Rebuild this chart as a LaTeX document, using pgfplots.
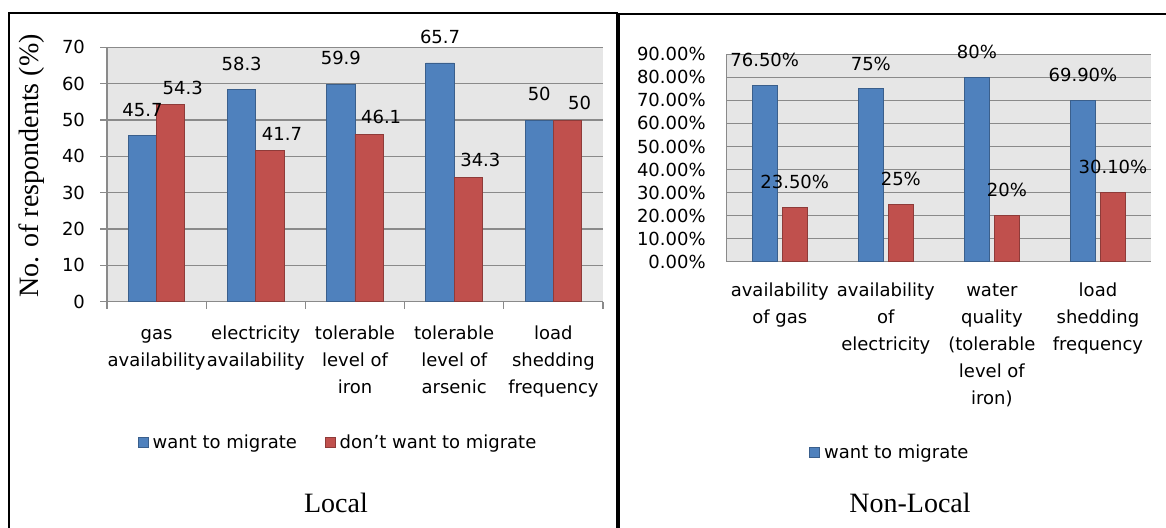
\documentclass[border=0pt]{standalone}
\usepackage{fontspec}
\setmainfont{DejaVu Sans}
\newfontfamily\seriffont{Liberation Serif}
\usepackage{pgfplots}
\pgfplotsset{compat=1.18}

\definecolor{barblue}{HTML}{4F81BD}
\definecolor{barblueedge}{HTML}{3A5F8C}
\definecolor{barred}{HTML}{C0504D}
\definecolor{barrededge}{HTML}{8E3B39}
\definecolor{plotbg}{HTML}{E6E6E6}
\definecolor{gridgray}{HTML}{8A8A8A}

\pgfplotsset{
  sqlegend/.style={legend image code/.code={\draw[##1] (0pt,-2.5pt) rectangle (5pt,2.5pt);}},
  bluebar/.style={fill=barblue, draw=barblueedge, sqlegend},
  redbar/.style={fill=barred, draw=barrededge, sqlegend},
  excel/.style={
    scale only axis,
    /pgf/number format/assume math mode=true,
    ybar, clip=false,
    axis background/.style={fill=plotbg},
    axis lines*=left,
    axis line style={gridgray, line width=0.7pt},
    ymajorgrids,
    grid style={gridgray, line width=0.6pt},
    tick label style={font=\fontsize{9}{13.5}\selectfont, text=black},
    xticklabel style={align=center},
    nodes near coords,
    every node near coord/.append style={font=\fontsize{9}{11}\selectfont, text=black},
    legend style={draw=none, fill=none, legend columns=-1,
      font=\fontsize{9}{11}\selectfont, anchor=center,
      /tikz/every even column/.append style={column sep=12pt}},
  },
}

\begin{document}
\begin{tikzpicture}
\useasboundingbox (0pt,0pt) rectangle (583pt,263.5pt);

% local respondents
\begin{axis}[excel,
  at={(53.5pt,112.65pt)}, anchor=south west,
  width=248pt, height=127.2pt,
  xmin=-0.5, xmax=4.5, ymin=0, ymax=70, ytick={0,10,...,70},
  bar width=14.15pt, ybar=0pt,
  tick align=outside, major tick length=3.5pt,
  tick style={gridgray, line width=0.6pt},
  xtick={-0.5,0.5,...,4.5}, xticklabels={},
  extra x ticks={0,1,2,3,4},
  extra x tick labels={\strut gas\\availability, \strut electricity\\availability, \strut tolerable\\level of\\iron, \strut tolerable\\level of\\arsenic, \strut load\\shedding\\frequency},
  extra x tick style={major tick length=0pt, tick style={draw=none}},
  xticklabel style={yshift=-6pt},
  yticklabel style={xshift=-4pt},
  ylabel={No. of respondents (\%)},
  ylabel style={font=\seriffont\fontsize{14}{16}\selectfont,
    at={(axis description cs:-0.151,0.533)}, anchor=center},
  legend style={at={(0.468,-0.555)}},
]
\addplot[bluebar, every node near coord/.append style={yshift=6pt}]
  coordinates {(0,45.7) (1,58.3) (2,59.9) (3,65.7) (4,50)};
\addlegendentry{want to migrate}
\addplot[redbar, every node near coord/.append style={xshift=6pt, yshift=1.5pt}]
  coordinates {(0,54.3) (1,41.7) (2,46.1) (3,34.3) (4,50)};
\addlegendentry{don't want to migrate}
\end{axis}

% non-local respondents
\begin{axis}[excel,
  at={(363.35pt,132.65pt)}, anchor=south west,
  width=212.15pt, height=103.7pt,
  xmin=-0.5, xmax=3.5, ymin=0, ymax=90, ytick={0,10,...,90},
  yticklabels={0.00\%,10.00\%,20.00\%,30.00\%,40.00\%,50.00\%,60.00\%,70.00\%,80.00\%,90.00\%},
  bar width=12.5pt, ybar=2.5pt,
  major tick length=0pt,
  xtick={0,1,2,3},
  xticklabels={\strut availability\\of gas, \strut availability\\of\\electricity, \strut water\\quality\\(tolerable\\level of\\iron), \strut load\\shedding\\frequency},
  xticklabel style={yshift=-4.5pt},
  yticklabel style={xshift=-7pt},
  point meta=explicit symbolic,
  every node near coord/.append style={yshift=5.75pt},
  legend style={at={(0.387,-0.921)}},
]
\addplot[bluebar] coordinates {(0,76.5) [76.50\%] (1,75) [75\%] (2,80) [80\%] (3,69.9) [69.90\%]};
\addlegendentry{want to migrate}
\addplot[redbar] coordinates {(0,23.5) [23.50\%] (1,25) [25\%] (2,20) [20\%] (3,30.1) [30.10\%]};
\end{axis}

\begin{scope}[x=0.5pt, y=0.5pt]
\draw[line width=1.3pt] (9,-5) -- (9,514) -- (617,514) -- (617,-5);
\draw[line width=1.3pt] (619,-5) -- (619,513) -- (1170,513);
\node[font=\seriffont\fontsize{14}{16}\selectfont] at (336,24) {Local};
\node[font=\seriffont\fontsize{14}{16}\selectfont] at (910,24) {Non-Local};
\end{scope}
\end{tikzpicture}
\end{document}
